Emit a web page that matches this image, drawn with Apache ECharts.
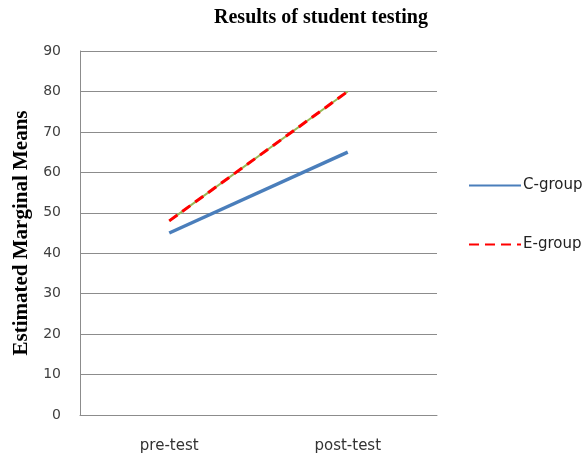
<!DOCTYPE html>
<html><head><meta charset="utf-8">
<script src="https://cdn.jsdelivr.net/npm/echarts@6/dist/echarts.min.js"></script>
<style>html,body{margin:0;padding:0;background:#fff}#c{width:584px;height:457px}</style>
</head><body><div id="c"></div>
<script>
const categories = ['pre-test', 'post-test'];
const cGroup = [45, 65];
const eGroup = [48, 80];
const yTicks = [0, 10, 20, 30, 40, 50, 60, 70, 80, 90];

const chart = echarts.init(document.getElementById('c'), null, {renderer: 'canvas'});
chart.setOption({
  animation: false,
  backgroundColor: '#fff',
  title: {
    text: 'Results of student testing',
    left: 316, top: 3, textAlign: 'center',
    textStyle: {fontFamily: 'Liberation Serif', fontWeight: 'bold', fontSize: 20, color: '#000'}
  },
  grid: {left: 80, right: 147, top: 51, bottom: 42},
  legend: {
    orient: 'vertical', left: 463, top: 173,
    itemWidth: 52, itemHeight: 18, itemGap: 44,
    data: ['C-group', 'E-group'],
    itemStyle: {opacity: 0},
    textStyle: {fontFamily: 'DejaVu Sans', fontSize: 15, color: '#222', padding: [0, 0, 0, -3]}
  },
  xAxis: {
    type: 'category', data: categories, boundaryGap: true,
    axisLine: {lineStyle: {color: '#8c8c8c', width: 1}},
    axisTick: {show: false},
    axisLabel: {fontFamily: 'DejaVu Sans', fontSize: 15, color: '#333', margin: 24}
  },
  yAxis: {
    type: 'value', min: yTicks[0], max: yTicks[yTicks.length - 1], interval: 10,
    name: 'Estimated Marginal Means', nameLocation: 'middle', nameGap: 43,
    nameTextStyle: {fontFamily: 'Liberation Serif', fontWeight: 'bold', fontSize: 21, color: '#000'},
    axisLine: {show: true, lineStyle: {color: '#8c8c8c', width: 1}},
    axisTick: {show: false},
    axisLabel: {fontFamily: 'DejaVu Sans', fontSize: 14, color: '#404040', margin: 19},
    splitLine: {lineStyle: {color: '#8c8c8c', width: 1}}
  },
  series: [
    {name: 'C-group', type: 'line', data: cGroup, symbol: 'none',
     lineStyle: {color: '#4a7ebb', width: 3.5}, itemStyle: {color: '#4a7ebb'}},
    {name: 'E-under', type: 'line', data: eGroup, symbol: 'none', silent: true,
     lineStyle: {color: '#98b954', width: 2}, itemStyle: {color: '#98b954'}},
    {name: 'E-group', type: 'line', data: eGroup, symbol: 'none',
     lineStyle: {color: '#ff0000', width: 3, type: [10, 6]}, itemStyle: {color: '#ff0000'}}
  ]
});
</script></body></html>
